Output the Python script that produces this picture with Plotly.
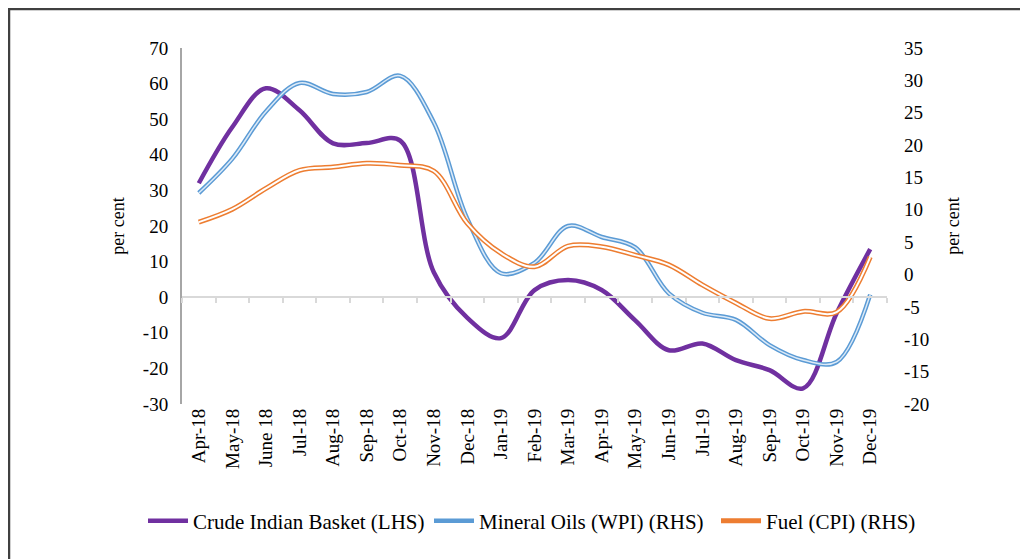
import plotly.graph_objects as go

months = ["Apr-18", "May-18", "June 18", "Jul-18", "Aug-18", "Sep-18", "Oct-18", "Nov-18",
          "Dec-18", "Jan-19", "Feb-19", "Mar-19", "Apr-19", "May-19", "Jun-19", "Jul-19",
          "Aug-19", "Sep-19", "Oct-19", "Nov-19", "Dec-19"]
crude = [32, 47.8, 58.7, 52.5, 43.2, 43.3, 44, 7, -5.8, -11.5, 2, 4.8, 2, -6.5, -14.9, -13,
         -17.7, -20.5, -25.6, -4.5, 13.5]
mineral = [12.6, 17.9, 25.2, 29.6, 27.9, 28.2, 30.7, 23.5, 8.6, 0.2, 1.8, 7.5, 5.8, 4.2, -2.9,
           -5.9, -7.0, -10.9, -13.2, -13.5, -3.1]
fuel = [8.1, 10.1, 13.3, 16.1, 16.6, 17.2, 16.9, 16.0, 7.9, 3.3, 1.2, 4.4, 4.3, 3.0, 1.5, -1.6,
        -4.4, -6.8, -5.7, -5.8, 2.7]
left_ticks = [70, 60, 50, 40, 30, 20, 10, 0, -10, -20, -30]
right_ticks = [35, 30, 25, 20, 15, 10, 5, 0, -5, -10, -15, -20]

FONT = "Liberation Serif, Times New Roman, serif"

# page body has an 8px margin: work in figure coordinates (screen - 8)
OFF = 8
W, H = 1028 - OFF, 559 - OFF
L, R, T, B = 182 - OFF, 887 - OFF, 48 - OFF, 404 - OFF


def px(x):  # screen x -> paper
    return (x - OFF - L) / (R - L)


def py(y):  # screen y -> paper
    return (B - (y - OFF)) / (B - T)


fig = go.Figure()

# zero-line axis carrier (invisible)
fig.add_trace(go.Scatter(x=months, y=crude, xaxis="x2", yaxis="y", mode="lines",
                         line=dict(width=0), showlegend=False, hoverinfo="skip", opacity=0))

# Mineral oils (double line look)
fig.add_trace(go.Scatter(x=months, y=mineral, yaxis="y2", mode="lines", line_shape="spline",
                         name="Mineral Oils (WPI) (RHS)", legend="legend2",
                         line=dict(color="#5B9BD5", width=4.5)))
fig.add_trace(go.Scatter(x=months, y=mineral, yaxis="y2", mode="lines", line_shape="spline",
                         showlegend=False, hoverinfo="skip",
                         line=dict(color="#DCEAF7", width=1.5)))
# Fuel
fig.add_trace(go.Scatter(x=months, y=fuel, yaxis="y2", mode="lines", line_shape="spline",
                         name="Fuel (CPI) (RHS)", legend="legend3",
                         line=dict(color="#ED7D31", width=5)))
fig.add_trace(go.Scatter(x=months, y=fuel, yaxis="y2", mode="lines", line_shape="spline",
                         showlegend=False, hoverinfo="skip",
                         line=dict(color="white", width=2)))
# Crude
fig.add_trace(go.Scatter(x=months, y=crude, yaxis="y", mode="lines", line_shape="spline",
                         name="Crude Indian Basket (LHS)", legend="legend",
                         line=dict(color="#7030A0", width=4.5)))

leg_common = dict(orientation="h", yanchor="middle", xanchor="left",
                  font=dict(family=FONT, size=21), itemwidth=40,
                  bgcolor="rgba(0,0,0,0)")

fig.update_layout(
    width=W, height=H,
    margin=dict(l=L, r=W - R, t=T, b=H - B, autoexpand=False),
    paper_bgcolor="white", plot_bgcolor="white",
    font=dict(family=FONT, size=18, color="black"),
    showlegend=True,
    legend=dict(x=px(143), y=py(521), **leg_common),
    legend2=dict(x=px(429), y=py(521), **leg_common),
    legend3=dict(x=px(716), y=py(521), **leg_common),
    xaxis=dict(type="category", showgrid=False, showline=False, ticks="",
               tickangle=-90, tickfont=dict(family=FONT, size=19), zeroline=False,
               range=[-0.5, 20.5], automargin=False),
    xaxis2=dict(type="category", overlaying="x", anchor="free", position=0.3,
                showgrid=False, showline=True, linecolor="#D9D9D9", linewidth=2,
                ticks="outside", tickson="boundaries", ticklen=5, tickcolor="#D9D9D9",
                tickwidth=2, showticklabels=False, range=[-0.5, 20.5], automargin=False),
    yaxis=dict(range=[-30, 70], tickvals=left_ticks, ticktext=[str(v) for v in left_ticks],
               showgrid=False, zeroline=False, automargin=False,
               showline=True, linecolor="#A6A6A6", linewidth=2, ticks="",
               tickfont=dict(family=FONT, size=19), ticklabelstandoff=8,
               title=dict(text="per cent", font=dict(family=FONT, size=18), standoff=14)),
    yaxis2=dict(range=[-20, 35], tickvals=right_ticks, ticktext=[str(v) for v in right_ticks],
                overlaying="y", side="right", showgrid=False, automargin=False,
                zeroline=False, showline=False, ticks="", ticklabelstandoff=16,
                tickfont=dict(family=FONT, size=19),
                title=dict(text="per cent", font=dict(family=FONT, size=18), standoff=18)),
    shapes=[dict(type="path", xref="paper", yref="paper",
                 path=f"M {px(9)} {py(570)} L {px(9)} {py(9)} L {px(1040)} {py(9)}",
                 line=dict(color="#404040", width=2.5))],
)

fig.write_html("out.html")
